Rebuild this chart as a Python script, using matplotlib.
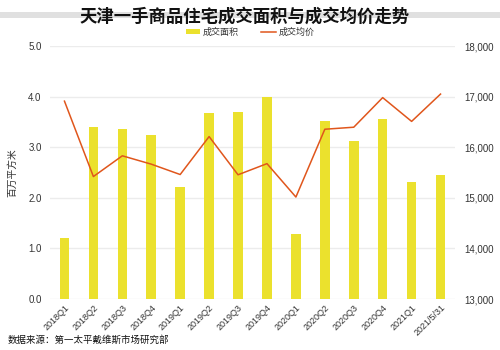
import matplotlib
matplotlib.use("Agg")
import matplotlib.pyplot as plt
from matplotlib.patches import Rectangle
from matplotlib.lines import Line2D
from matplotlib.ticker import FuncFormatter, MultipleLocator
import numpy as np

plt.rcParams['font.family'] = ['Liberation Sans', 'Noto Sans CJK SC', 'DejaVu Sans']

categories = ["2018Q1", "2018Q2", "2018Q3", "2018Q4", "2019Q1", "2019Q2", "2019Q3",
              "2019Q4", "2020Q1", "2020Q2", "2020Q3", "2020Q4", "2021Q1", "2021/5/31"]
area = [1.20, 3.39, 3.35, 3.25, 2.21, 3.68, 3.70, 3.99, 1.28, 3.51, 3.12, 3.56, 2.31, 2.45]
price = [16910, 15420, 15830, 15665, 15460, 16210, 15455, 15675, 15015, 16355, 16395,
         16980, 16510, 17050]

bar_color = "#EBE12D"
line_color = "#E0561C"
text_color = "#333333"

fig = plt.figure(figsize=(5, 3.5), dpi=100)
fig.patches.append(Rectangle((0, 1 - 17.5/350), 1, 5.5/350, transform=fig.transFigure,
                             facecolor="#e0e0e0", edgecolor="none", zorder=0))
fig.text(0.49, 1 - 16/350, "天津一手商品住宅成交面积与成交均价走势", ha="center", va="center",
         fontsize=12.5, fontweight="bold", color="#111111", zorder=2)

ax = fig.add_axes([0.1, 1 - 299/350, 0.81, (299 - 46)/350])
x = np.arange(len(categories))
ax.bar(x, area, width=0.33, color=bar_color, zorder=2)
ax.set_xlim(-0.5, len(categories) - 0.5)
ax.set_ylim(0, 5)
ax.yaxis.set_major_locator(MultipleLocator(1))
ax.yaxis.set_major_formatter(FuncFormatter(lambda v, p: f"{v:.1f}"))
ax.grid(axis="y", color="#ececec", linewidth=1, zorder=0)
ax.set_axisbelow(True)
for s in ax.spines.values():
    s.set_visible(False)
ax.tick_params(axis="both", length=0, labelsize=7, colors=text_color, pad=6)
ax.set_xticks(x)
ax.set_xticklabels(categories, rotation=45, ha="right", rotation_mode="anchor", fontsize=6.5)
ax.tick_params(axis="x", pad=3)
ax.set_ylabel("百万平方米", fontsize=7, color=text_color, labelpad=8)

ax2 = ax.twinx()
ax2.plot(x, price, color=line_color, linewidth=1.1, zorder=3)
ax2.set_ylim(13000, 18000)
ax2.yaxis.set_major_locator(MultipleLocator(1000))
ax2.yaxis.set_major_formatter(FuncFormatter(lambda v, p: f"{int(v):,}"))
for s in ax2.spines.values():
    s.set_visible(False)
ax2.tick_params(axis="y", length=0, labelsize=7, colors=text_color, pad=7)

handles = [Rectangle((0, 0), 1, 1, facecolor=bar_color, edgecolor="none"),
           Line2D([0], [0], color=line_color, linewidth=1.1)]
fig.legend(handles, ["成交面积", "成交均价"], loc="center", bbox_to_anchor=(0.5, 1 - 32/350),
           ncol=2, frameon=False, fontsize=6.5, handlelength=1.6, handleheight=0.5,
           columnspacing=2.5, handletextpad=0.3, labelcolor=text_color)

fig.text(8/500, 1 - 340/350, "数据来源：第一太平戴维斯市场研究部", ha="left", va="center",
         fontsize=6.8, color="#111111")

fig.savefig("out.png", dpi=100)
